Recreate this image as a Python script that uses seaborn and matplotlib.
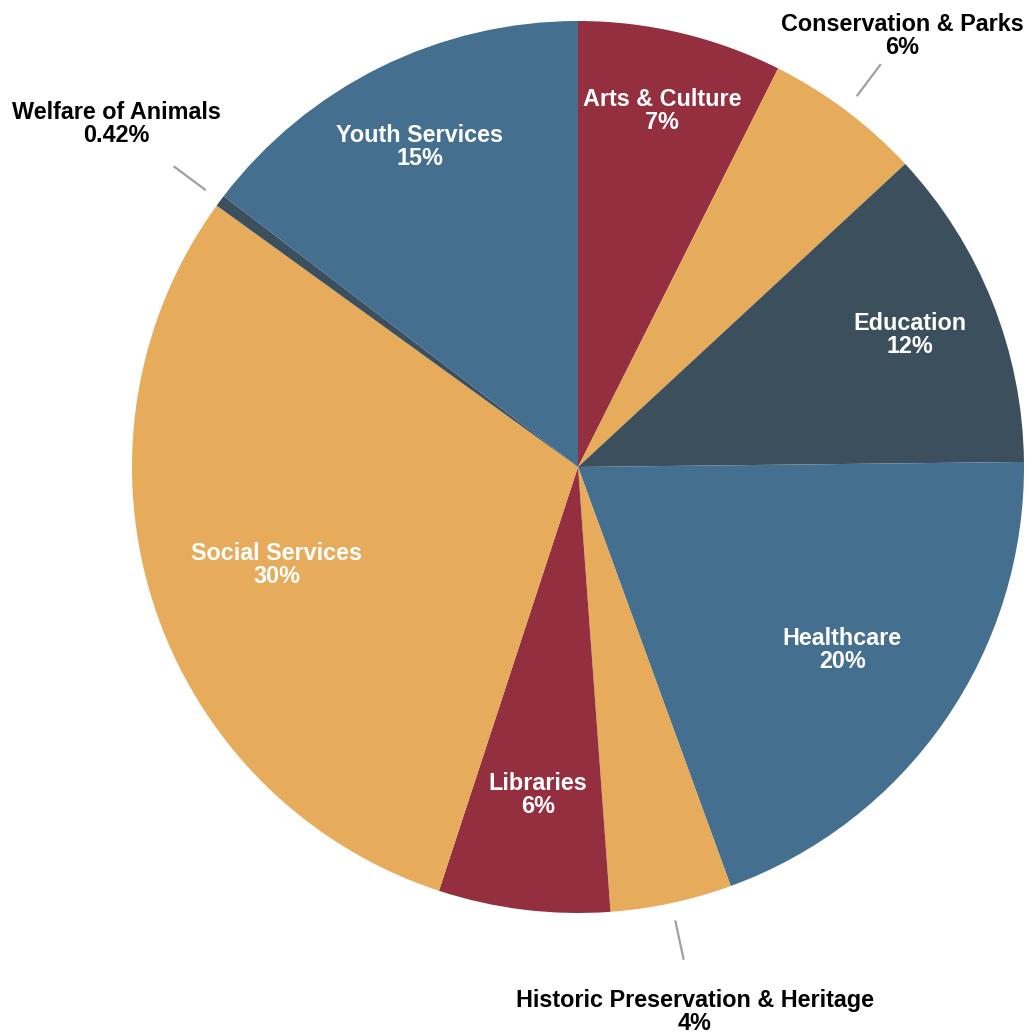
import numpy as np
import matplotlib.pyplot as plt
import seaborn as sns

#--Data (clockwise from 12 o'clock)
categories = ['Arts & Culture', 'Conservation & Parks', 'Education', 'Healthcare',
              'Historic Preservation & Heritage', 'Libraries', 'Social Services',
              'Welfare of Animals', 'Youth Services']
shares = [7.4, 5.7, 11.7, 19.6, 4.4, 6.2, 29.9, 0.42, 14.6]

crimson = '#932f3f'
orange = '#e6ab5b'
slate = '#3c4f5d'
blue = '#446f8f'
colors = [crimson, orange, slate, blue, orange, crimson, orange, slate, blue]

#Which labels sit outside with a leader line, and how far out the labels go
outside = [False, True, False, False, True, False, False, True, False]
label_r = [0.82, 1.21, 0.80, 0.72, 1.25, 0.74, 0.71, 1.29, 0.80]

sns.set_style('white')
plt.rcParams['font.family'] = ['Liberation Sans', 'DejaVu Sans']

#--Figure in pixel units
W, H = 1036, 1033
fig = plt.figure(figsize=(W / 100, H / 100), dpi=100)
ax = fig.add_axes([0, 0, 1, 1])

cx, cy, R = 578, H - 467, 446
wedges, _ = ax.pie(shares, colors=colors, startangle=90, counterclock=False,
                   center=(cx, cy), radius=R, frame=True,
                   wedgeprops=dict(linewidth=0))
ax.set_xlim(0, W)
ax.set_ylim(0, H)
ax.set_aspect('equal')
ax.axis('off')

def fmt(v):
    return '%.2f%%' % v if v < 1 else '%d%%' % round(v)

for w, name, v, out, lr in zip(wedges, categories, shares, outside, label_r):
    mid = np.deg2rad((w.theta1 + w.theta2) / 2)
    ux, uy = np.cos(mid), np.sin(mid)
    txt = name + '\n' + fmt(v)
    if out:
        ax.plot([cx + ux * R * 1.04, cx + ux * R * 1.13],
                [cy + uy * R * 1.04, cy + uy * R * 1.13],
                color='#a0a0a0', lw=1.6, solid_capstyle='butt')
        ax.text(cx + ux * R * lr, cy + uy * R * lr, txt, ha='center', va='center',
                fontsize=16.8, fontweight='bold', color='black', linespacing=1.0)
    else:
        ax.text(cx + ux * R * lr, cy + uy * R * lr, txt, ha='center', va='center',
                fontsize=16.8, fontweight='bold', color='white', linespacing=1.0)

fig.savefig('out.png', dpi=100, facecolor='white')
